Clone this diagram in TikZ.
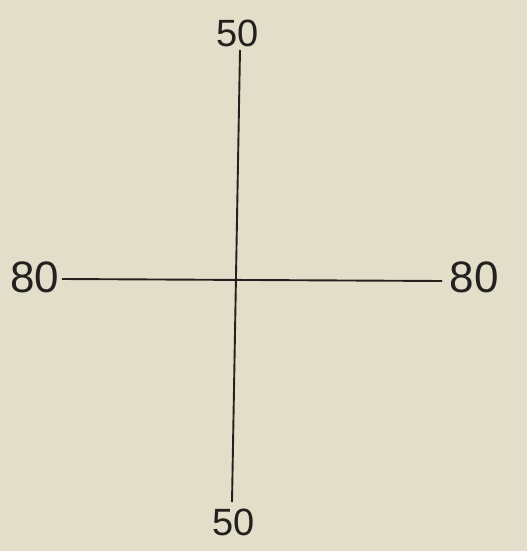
\documentclass[tikz,border=0pt]{standalone}
\usepackage{fontspec}
\setmainfont{Liberation Sans}
\definecolor{paper}{RGB}{226,222,202}
\definecolor{ink}{RGB}{35,33,30}
\begin{document}
\begin{tikzpicture}[x=1pt,y=-1pt,
  lbl/.style={inner sep=0pt,text=ink,font=\fontsize{38}{38}\selectfont},
  biglbl/.style={inner sep=0pt,text=ink,font=\fontsize{44}{44}\selectfont},
  axis/.style={draw=ink,line width=1.9pt}]
\fill[paper] (0,0) rectangle (527,551);
\useasboundingbox (0,0) rectangle (527,551);
\node[lbl] (t) at (238,33) {50};
\node[lbl] (b) at (234,522) {50};
\node[biglbl] (l) at (35,277) {80};
\node[biglbl] (r) at (474,277) {80};
\coordinate (vt) at (240,50);
\coordinate (vb) at (232,502);
\coordinate (hl) at (62,279);
\coordinate (hr) at (442,281);
\draw[axis] (vt) -- (vb);
\draw[axis] (hl) -- (hr);
\end{tikzpicture}
\end{document}
